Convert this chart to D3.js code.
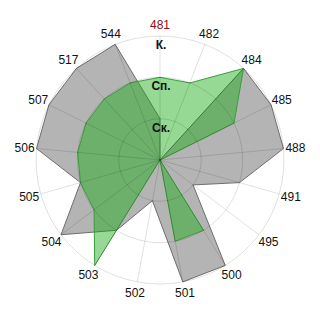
<!DOCTYPE html>
<html>
<head>
<meta charset="utf-8">
<script src="https://d3js.org/d3.v7.min.js"></script>
<style>
  body{ margin:0; background:#fff; }
  svg{ display:block; }
  text{ font-family:"Liberation Sans", Arial, sans-serif; }
</style>
</head>
<body>
<svg id="chart" width="320" height="320"></svg>
<script>
  // categories around the circle, clockwise from the top
  var categories = ["481","482","484","485","488","491","495","500","501","502","503","504","505","506","507","517","544"];
  // ring levels and their names
  var levels = [1, 2, 3];
  var levelNames = ["Ск.", "Сп.", "К."];
  // the two series (level 0..3)
  var grayValues  = [1, 0, 3, 3, 3, 2, 1, 3, 3, 1, 2, 3, 2, 3, 3, 3, 3];
  var greenValues = [2, 2, 3, 2, 0, 0, 0, 2, 2, 0, 3, 2, 2, 2, 2, 2, 2];

  var cx = 160, cy = 160, R = 124;
  var svg = d3.select("#chart");
  var g = svg.append("g").attr("transform", "translate(" + cx + "," + cy + ")");

  var rscale = d3.scaleLinear().domain([0, 3]).range([0, R]);
  var ascale = d3.scaleLinear().domain([0, categories.length]).range([0, 2 * Math.PI]);

  var line = d3.lineRadial()
      .angle(function(d, i){ return ascale(i); })
      .radius(function(d){ return rscale(d); })
      .curve(d3.curveLinearClosed);

  // gray series
  g.append("path")
    .attr("d", line(grayValues))
    .attr("fill", "#b4b4b4")
    .attr("stroke", "#6e6e6e")
    .attr("stroke-width", 1);

  // green series, translucent
  g.append("path")
    .attr("d", line(greenValues))
    .attr("fill", "rgb(20,170,20)")
    .attr("fill-opacity", 0.45)
    .attr("stroke", "#3a9e3a")
    .attr("stroke-width", 1);

  // grid on top
  g.selectAll("circle.ring")
    .data(levels)
    .enter().append("circle")
    .attr("class", "ring")
    .attr("r", function(d){ return rscale(d); })
    .attr("fill", "none")
    .attr("stroke", "#000")
    .attr("stroke-opacity", 0.12);

  g.selectAll("line.spoke")
    .data(categories)
    .enter().append("line")
    .attr("class", "spoke")
    .attr("x1", 0).attr("y1", 0)
    .attr("x2", function(d, i){ return R * Math.sin(ascale(i)); })
    .attr("y2", function(d, i){ return -R * Math.cos(ascale(i)); })
    .attr("stroke", "#000")
    .attr("stroke-opacity", 0.12);

  // category labels
  g.selectAll("text.cat")
    .data(categories)
    .enter().append("text")
    .attr("class", "cat")
    .attr("x", function(d, i){ return 136 * Math.sin(ascale(i)); })
    .attr("y", function(d, i){ return -135 * Math.cos(ascale(i)); })
    .attr("dy", "0.35em")
    .attr("text-anchor", "middle")
    .attr("font-size", 12)
    .attr("fill", function(d, i){ return i == 0 ? "#8b1010" : "#111"; })
    .text(function(d){ return d; });

  // ring labels
  g.selectAll("text.lvl")
    .data(levels)
    .enter().append("text")
    .attr("class", "lvl")
    .attr("x", 1)
    .attr("y", function(d){ return -rscale(d) + 13; })
    .attr("text-anchor", "middle")
    .attr("font-size", 12)
    .attr("font-weight", "bold")
    .attr("fill", "#111")
    .text(function(d, i){ return levelNames[i]; });
</script>
</body>
</html>
